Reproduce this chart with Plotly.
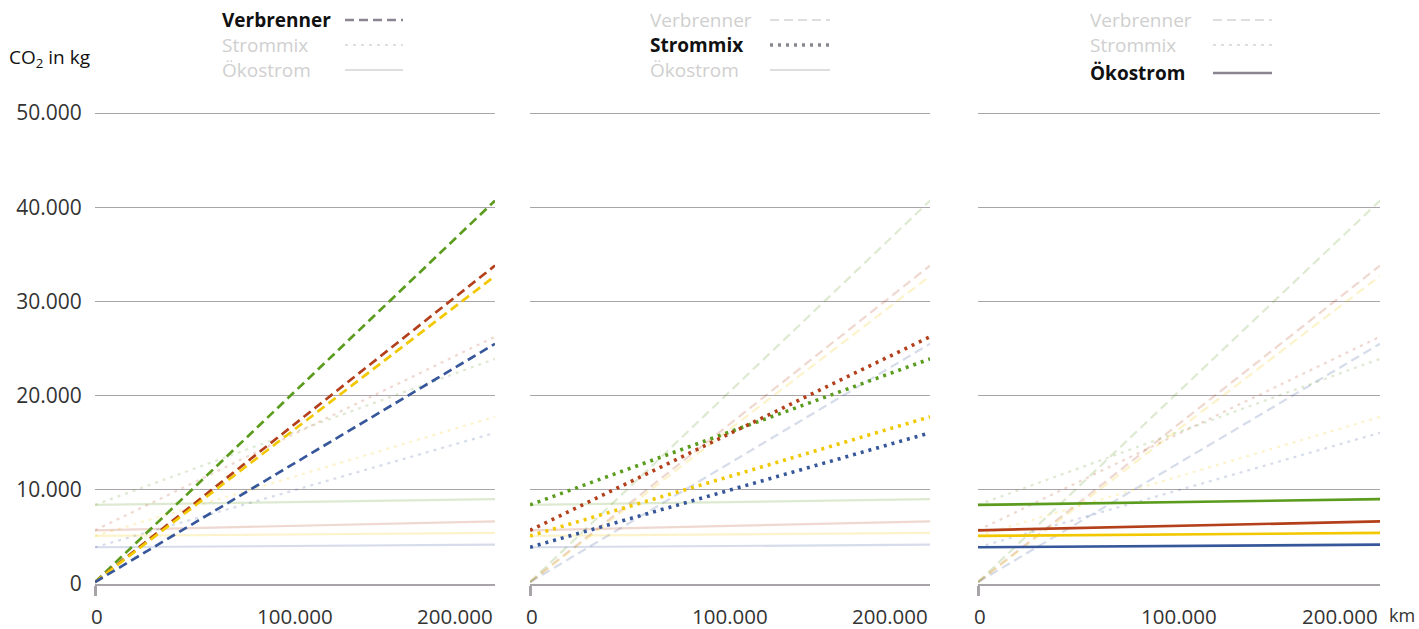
import plotly.graph_objects as go

W, H = 1419, 629

# ---------------- data ----------------
km = [0, 200000]
colors_names = ["Grün", "Rot", "Gelb", "Blau"]
line_colors = ["#5b9c1f", "#b3401a", "#f2c800", "#37579b"]

verbrenner_start = [200, 200, 200, 200]
verbrenner_end = [40700, 33800, 32700, 25500]
strommix_start = [8400, 5700, 5100, 3900]
strommix_end = [23900, 26250, 17750, 16050]
oekostrom_start = [8400, 5700, 5100, 3900]
oekostrom_end = [9000, 6650, 5420, 4170]

types = ["Verbrenner", "Strommix", "Ökostrom"]
y_ticks = [0, 10000, 20000, 30000, 40000, 50000]
x_ticks = [0, 100000, 200000]
x_ticktext = ["0", "100.000", "200.000"]

series = {
    "Verbrenner": (verbrenner_start, verbrenner_end),
    "Strommix": (strommix_start, strommix_end),
    "Ökostrom": (oekostrom_start, oekostrom_end),
}
dash_style = {"Verbrenner": "9px,5px", "Strommix": "3px,5px", "Ökostrom": "solid"}
active_width = {"Verbrenner": 2.7, "Strommix": 3.6, "Ökostrom": 2.7}

FONT = "Open Sans"

def px(x):
    return x / W

def py(y):
    return 1 - y / H

# panel domains (pixels)
panels = [(95, 495), (530, 930), (978, 1380)]
y_bottom, y_top = 584, 113
Y_MAX = 51000
y_top_ext = y_bottom - (y_bottom - y_top) * Y_MAX / 50000

fig = go.Figure()

for p, (x0, x1) in enumerate(panels):
    xa = "x" if p == 0 else f"x{p+1}"
    ya = "y" if p == 0 else f"y{p+1}"
    active = types[p]
    order = [t for t in types if t != active] + [active]
    for t in order:
        starts, ends = series[t]
        for i in range(4):
            is_active = t == active
            fig.add_trace(go.Scatter(
                x=km, y=[starts[i], ends[i]], mode="lines",
                xaxis=xa, yaxis=ya,
                line=dict(color=line_colors[i],
                          width=active_width[t] if is_active else 2.2,
                          dash=dash_style[t]),
                opacity=1.0 if is_active else 0.2,
                name=f"{t} {colors_names[i]}", showlegend=False,
                hoverinfo="skip",
            ))

    axis_x = dict(
        domain=[px(x0), px(x1)], range=[0, 200000],
        showgrid=False, zeroline=False, automargin=False,
        showline=True, linecolor="#a7a3a8", linewidth=1.5,
        tickvals=[0], ticks="outside", ticklen=10, tickwidth=3, tickcolor="#a7a3a8",
        showticklabels=False, fixedrange=True,
        anchor=ya,
    )
    axis_y = dict(
        domain=[py(y_bottom), py(y_top_ext)], range=[0, Y_MAX],
        tickvals=y_ticks, showgrid=True, gridcolor="#a9a5aa", gridwidth=1,
        zeroline=False, showline=False, automargin=False,
        showticklabels=(p == 0), tickformat=",",
        ticks="outside", ticklen=8, tickcolor="rgba(0,0,0,0)",
        tickfont=dict(family=FONT, size=21, color="#333333"),
        fixedrange=True, anchor=xa,
    )
    key = "" if p == 0 else str(p + 1)
    fig.layout["xaxis" + key] = axis_x
    fig.layout["yaxis" + key] = axis_y

    # x tick labels
    for v, txt in zip(x_ticks, x_ticktext):
        anchor = "left" if v == 0 else ("right" if v == 200000 else "center")
        xshift = -6 if v == 0 else 0
        fig.add_annotation(x=v, y=py(615.5), xref=xa, yref="paper",
                           text=txt, showarrow=False, xanchor=anchor, yanchor="middle",
                           xshift=xshift,
                           font=dict(family=FONT, size=20.5, color="#333333"))

    # legend block
    text_x = [222, 650, 1090][p]
    line_x = [(345, 403), (770, 830), (1213, 1272)][p]
    rows = [20, 45, 70]
    for r, t in enumerate(types):
        is_active = t == active
        yy = rows[r] + (3 if (is_active and r == 2) else 0)
        fig.add_annotation(x=px(text_x - 2), y=py(yy), xref="paper", yref="paper",
                           text=f"<b>{t}</b>" if is_active else t, showarrow=False,
                           xanchor="left", yanchor="middle",
                           font=dict(family=FONT, size=19,
                                     color="#111111" if is_active else "#cfcfcf"))
        fig.add_shape(type="line", xref="paper", yref="paper",
                      x0=px(line_x[0]), x1=px(line_x[1]), y0=py(yy), y1=py(yy),
                      line=dict(color="#8a8590" if is_active else "#dedede",
                                width=(3.5 if t == "Strommix" else 2.5) if is_active else 2,
                                dash=dash_style[t]))

fig.add_annotation(x=px(1387), y=py(615), xref="paper", yref="paper", text="km",
                   showarrow=False, xanchor="left", yanchor="middle",
                   font=dict(family=FONT, size=18, color="#333333"))
fig.add_annotation(x=px(7), y=py(58), xref="paper", yref="paper",
                   text="CO<sub>2</sub> in kg", showarrow=False,
                   xanchor="left", yanchor="middle",
                   font=dict(family=FONT, size=19, color="#111111"))

fig.update_layout(
    width=W, height=H, margin=dict(l=0, r=0, t=0, b=0, autoexpand=False),
    paper_bgcolor="white", plot_bgcolor="white",
    separators=",.", showlegend=False,
    font=dict(family=FONT),
)

fig.write_html("out.html", config={"displayModeBar": False},
               post_script="document.body.style.margin='0';document.body.style.overflow='hidden';")
